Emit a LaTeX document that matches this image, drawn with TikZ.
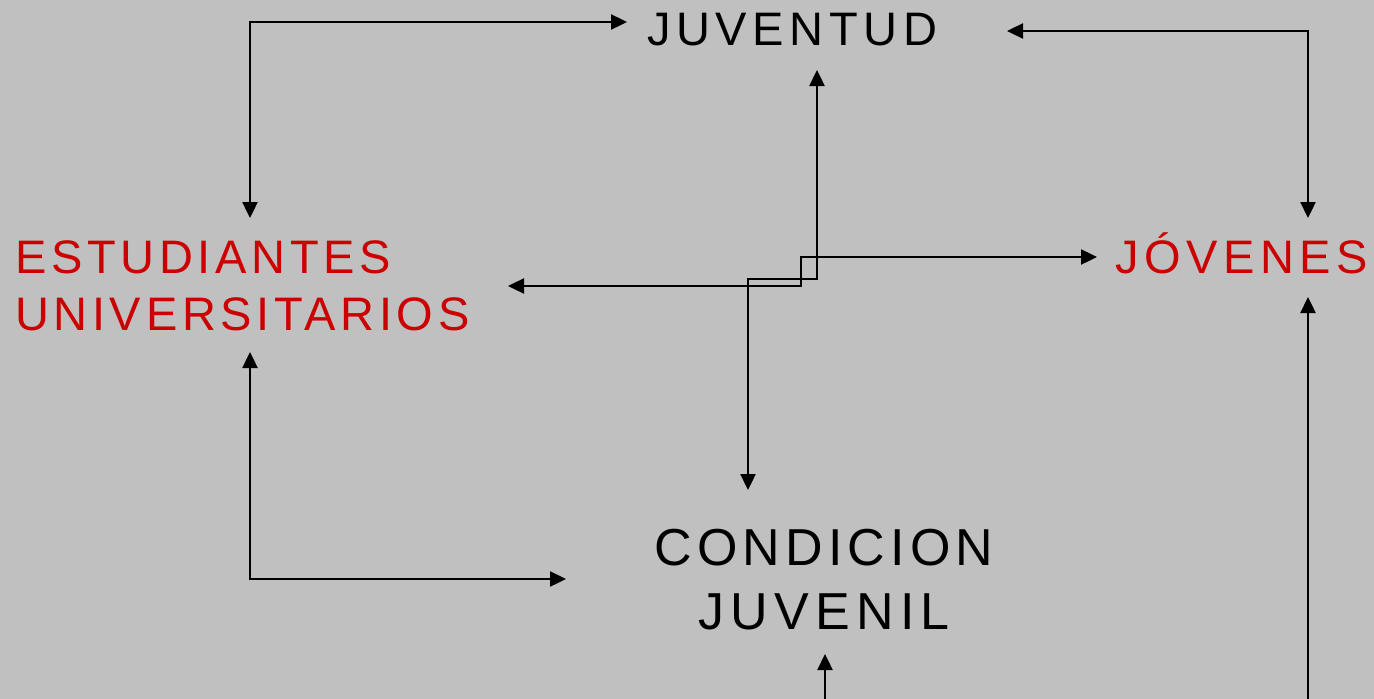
\documentclass[tikz,border=0pt]{standalone}
\usepackage{fontspec}
\setmainfont{Liberation Sans}[LetterSpace=12]
\newfontfamily\redfam{Liberation Sans}[LetterSpace=10]
\newfontfamily\condfam{Liberation Sans}[LetterSpace=10]
\newfontfamily\juvfam{Liberation Sans}[LetterSpace=12]
\usetikzlibrary{arrows.meta}
\definecolor{bgc}{RGB}{192,192,192}
\definecolor{redtxt}{RGB}{204,0,0}
\begin{document}
\begin{tikzpicture}[x=1pt,y=-1pt,
  lbl/.style={inner sep=0pt, outer sep=0pt, font=\fontsize{47}{57}\selectfont},
  redlbl/.style={inner sep=0pt, outer sep=0pt, text=redtxt, font=\redfam\fontsize{47}{57}\selectfont},
  big/.style={inner sep=0pt, outer sep=0pt, font=\condfam\fontsize{52}{64}\selectfont},
  conn/.style={line width=2.4pt, {Triangle[length=16pt,width=15pt]}-{Triangle[length=16pt,width=15pt]}},
  oneway/.style={line width=2.4pt, -{Triangle[length=16pt,width=15pt]}}]
\fill[bgc] (0,0) rectangle (1374,699);
\useasboundingbox (0,0) rectangle (1374,699);

\node[lbl, anchor=base west] (juv) at (647,45) {JUVENTUD};
\node[redlbl, anchor=base west, align=left] (est) at (15,330) {ESTUDIANTES\\UNIVERSITARIOS};
\node[lbl, anchor=base west, text=redtxt] (jov) at (1115,273) {JÓVENES};
\node[big, anchor=base, align=center] (cond) at (824,629) {CONDICION\\{\juvfam JUVENIL}};

% endpoints
\coordinate (juvW) at (627,22);
\coordinate (estN) at (250,218);
\coordinate (juvE) at (1007,31);
\coordinate (jovN) at (1308,218);
\coordinate (estS) at (250,352);
\coordinate (condW) at (566,579);
\coordinate (juvS) at (817,70);
\coordinate (condN) at (748,490);
\coordinate (estE) at (508,286);
\coordinate (jovW) at (1097,257);
\coordinate (condS) at (825,654);
\coordinate (condSfree) at (825,705);
\coordinate (jovS) at (1308,297);
\coordinate (jovSfree) at (1308,705);

\draw[conn] (juvW) -| (estN);
\draw[conn] (juvE) -| (jovN);
\draw[conn] (estS) |- (condW);
\draw[conn] (juvS) -- (817,279) -- (748,279) -- (condN);
\draw[conn] (estE) -- (801,286) -- (801,257) -- (jovW);
\draw[oneway] (condSfree) -- (condS);
\draw[oneway] (jovSfree) -- (jovS);
\end{tikzpicture}
\end{document}
